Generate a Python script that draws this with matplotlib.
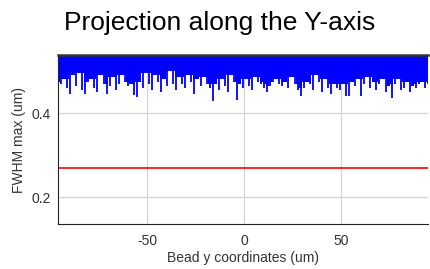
import numpy as np
import matplotlib
matplotlib.use("Agg")
import matplotlib.pyplot as plt

plt.rcParams["font.family"] = ["Liberation Sans", "DejaVu Sans"]

# lower edge of the FWHM trace, read left to right across the plot
fwhm = [
    0.475, 0.47, 0.48, 0.46, 0.445, 0.49, 0.465, 0.495, 0.455, 0.445, 0.475, 0.48,
    0.46, 0.45, 0.49, 0.47, 0.445, 0.465, 0.485, 0.455, 0.47, 0.49, 0.475, 0.465,
    0.47, 0.443, 0.438, 0.475, 0.46, 0.495, 0.47, 0.455, 0.49, 0.475, 0.45, 0.48,
    0.465, 0.5, 0.47, 0.455, 0.485, 0.47, 0.46, 0.49, 0.475, 0.446, 0.48, 0.465,
    0.485, 0.47, 0.46, 0.428, 0.47, 0.455, 0.48, 0.465, 0.45, 0.49, 0.475, 0.432,
    0.47, 0.46, 0.48, 0.465, 0.455, 0.485, 0.475, 0.47, 0.46, 0.45, 0.465, 0.475,
    0.48, 0.47, 0.465, 0.475, 0.46, 0.485, 0.47, 0.455, 0.44, 0.46, 0.475, 0.47,
    0.455, 0.49, 0.475, 0.45, 0.48, 0.46, 0.445, 0.47, 0.46, 0.455, 0.47, 0.44,
    0.44, 0.475, 0.465, 0.48, 0.44, 0.47, 0.485, 0.46, 0.475, 0.455, 0.47, 0.48,
    0.45, 0.465, 0.435, 0.47, 0.48, 0.455, 0.46, 0.475, 0.45, 0.465, 0.46, 0.47,
    0.475, 0.46, 0.47,
]
bead_y = np.linspace(-96, 95, len(fwhm))
threshold = 0.269

xticks = [-50, 0, 50]
yticks = [0.2, 0.4]

ylo, yhi = 0.136, 0.538

fig = plt.figure(figsize=(4.31, 2.69), dpi=100)
ax = fig.add_axes([0.1346, 0.167, 0.8584, 0.6285])

vals = np.array(fwhm)
# solid band where the trace oscillates above the axis top
band = np.maximum(np.maximum(vals, np.roll(vals, 1)), np.roll(vals, -1))
ax.fill_between(bead_y, band, 0.6, step="mid", color="#0000ff", lw=0)
ax.vlines(bead_y, vals, 0.6, color="#0000ff", lw=1.3)
ax.axhline(threshold, color="#ff0000", lw=1.2)

ax.set_xlim(-96, 95)
ax.set_ylim(ylo, yhi)
ax.set_xticks(xticks)
ax.set_yticks(yticks)
ax.set_xticklabels([str(t) for t in xticks])
ax.set_yticklabels([f"{t:.1f}" for t in yticks])
ax.grid(True, color="#d4d4d4", lw=0.9)
ax.set_axisbelow(True)
ax.tick_params(length=0, labelsize=10, labelcolor="#333333")
ax.tick_params(axis="x", pad=7)
ax.tick_params(axis="y", pad=5)

ax.spines["right"].set_visible(False)
ax.spines["top"].set_linewidth(1.8)
ax.spines["top"].set_color("#333333")
ax.spines["left"].set_color("#222222")
ax.spines["bottom"].set_color("#222222")

ax.set_xlabel("Bead y coordinates (um)", fontsize=10, color="#333333", labelpad=2)
ax.set_ylabel("FWHM max (um)", fontsize=10, color="#333333", labelpad=4)
fig.text(0.51, 0.915, "Projection along the Y-axis", fontsize=19, ha="center",
         va="center", color="black")

fig.savefig("out.png", dpi=100)
